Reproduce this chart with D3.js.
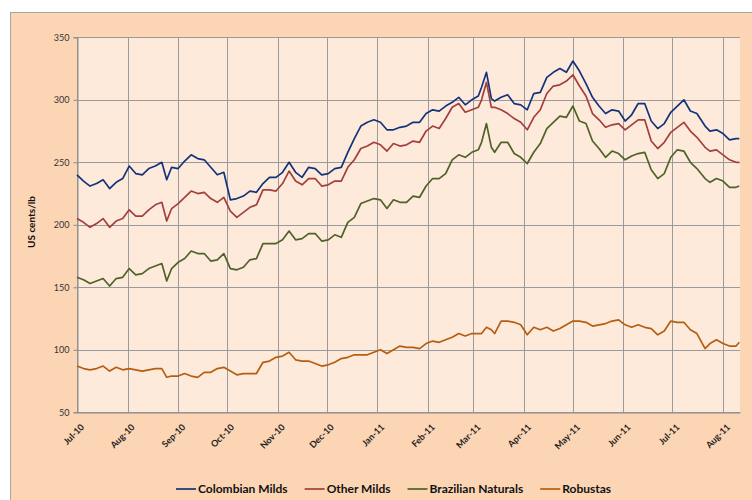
<!DOCTYPE html>
<html><head><meta charset="utf-8">
<script src="https://cdn.jsdelivr.net/npm/d3@7"></script>
<style>
body{margin:0;background:#fff;}
svg{display:block;font-family:Lato,"Open Sans",sans-serif;}
</style>
</head><body>
<svg id="chart" width="752" height="500"></svg>
<script>
const dates = [
"2010-07-01","2010-07-05","2010-07-09","2010-07-13","2010-07-17","2010-07-21","2010-07-25","2010-07-29",
"2010-08-02","2010-08-06","2010-08-10","2010-08-14","2010-08-18","2010-08-22","2010-08-25","2010-08-28",
"2010-09-01","2010-09-05","2010-09-09","2010-09-13","2010-09-17","2010-09-21","2010-09-25","2010-09-29",
"2010-10-03","2010-10-07","2010-10-11","2010-10-15","2010-10-19","2010-10-23","2010-10-27","2010-10-31",
"2010-11-04","2010-11-08","2010-11-12","2010-11-16","2010-11-20","2010-11-24","2010-11-28",
"2010-12-02","2010-12-06","2010-12-10","2010-12-14","2010-12-18","2010-12-22","2010-12-26","2010-12-30",
"2011-01-03","2011-01-07","2011-01-11","2011-01-15","2011-01-19","2011-01-23","2011-01-27","2011-01-31",
"2011-02-04","2011-02-08","2011-02-12","2011-02-16","2011-02-20","2011-02-24","2011-02-28",
"2011-03-04","2011-03-06","2011-03-09","2011-03-12","2011-03-14","2011-03-18","2011-03-22","2011-03-26","2011-03-30",
"2011-04-03","2011-04-07","2011-04-11","2011-04-15","2011-04-19","2011-04-23","2011-04-27",
"2011-05-01","2011-05-05","2011-05-09","2011-05-13","2011-05-17","2011-05-21","2011-05-25","2011-05-29",
"2011-06-02","2011-06-06","2011-06-10","2011-06-14","2011-06-18","2011-06-22","2011-06-26","2011-06-30",
"2011-07-04","2011-07-08","2011-07-12","2011-07-16","2011-07-21","2011-07-24","2011-07-28",
"2011-08-01","2011-08-05","2011-08-09","2011-08-11"
];
const colombianMilds = [
240,235,231,233,236,229,234,237,247,241,240,245,247,250,236,
246,245,251,256,253,252,246,240,242,220,221,223,227,226,233,238,238,242,250,242,
238,246,245,240,241,245,246,258,269,279,282,284,282,276,276,278,279,282,282,289,
292,291,295,298,302,296,300,303,
310,322,301,
299,302,304,297,296,292,305,306,318,322,325,322,331,323,313,302,295,289,292,291,
283,288,297,297,283,277,281,290,295,300,291,289,
279,275,276,273,268,269,269
];
const otherMilds = [
205,202,198,201,205,198,203,205,212,207,207,212,216,218,203,
213,217,222,227,225,226,221,218,222,211,206,210,214,216,228,228,227,233,243,235,
232,237,237,231,232,235,235,246,252,261,263,266,264,259,265,263,264,267,266,275,
279,277,285,294,297,290,292,294,
300,314,294,
294,292,289,285,282,276,286,292,305,311,312,315,320,311,303,289,284,278,280,281,
276,280,284,284,267,261,266,274,278,282,275,270,
262,259,260,256,252,250,250
];
const brazilianNaturals = [
158,156,153,155,157,151,157,158,165,160,161,165,167,169,155,
165,170,173,179,177,177,171,172,177,165,164,166,172,173,185,185,185,188,195,188,
189,193,193,187,188,192,190,202,206,217,219,221,220,213,220,218,218,223,222,231,
237,237,241,252,256,254,258,260,
266,281,262,
258,266,266,257,254,249,258,265,277,282,287,286,295,283,281,267,261,254,259,257,
252,255,257,258,244,237,241,254,260,259,250,245,
237,234,237,235,230,230,231
];
const robustas = [
87,85,84,85,87,83,86,84,85,84,83,84,85,85,78,
79,79,81,79,78,82,82,85,86,83,80,81,81,81,90,91,94,95,98,92,
91,91,89,87,88,90,93,94,96,96,96,98,100,97,100,103,102,102,101,105,
107,106,108,110,113,111,113,113,
113,118,116,
113,123,123,122,120,112,118,116,118,115,117,120,123,123,122,119,120,121,123,124,
120,118,120,118,117,112,115,123,122,122,116,113,
101,105,108,105,103,103,106
];
const seriesNames = ["Colombian Milds","Other Milds","Brazilian Naturals","Robustas"];
const seriesColors = ["#15337a","#a33f3c","#4f6228","#b55e12"];
const yTicks = [50,100,150,200,250,300,350];
const monthTicks = ["2010-07-01","2010-08-01","2010-09-01","2010-10-01","2010-11-01","2010-12-01",
"2011-01-01","2011-02-01","2011-03-01","2011-04-01","2011-05-01","2011-06-01","2011-07-01","2011-08-01"];
const yTitle = "US cents/lb";

const parse = d3.utcParse("%Y-%m-%d");
const dateObjs = dates.map(parse);
const seriesValues = [colombianMilds, otherMilds, brazilianNaturals, robustas];

const svg = d3.select("#chart");
const L = 77, R = 740, T = 37.3, B = 412.3;

svg.append("rect").attr("x",10.5).attr("y",12.5).attr("width",760).attr("height",500)
  .attr("fill","#fcd5b5").attr("stroke","#a6a6a6").attr("stroke-width",1);
svg.append("rect").attr("x",L).attr("y",T).attr("width",R-L).attr("height",B-T).attr("fill","#fdeadb");

const x = d3.scaleUtc().domain([parse("2010-07-01"), new Date(Date.UTC(2011,7,11,10))]).range([L,R]);
const y = d3.scaleLinear().domain([50,350]).range([B,T]);

const grid = svg.append("g");
grid.selectAll("line.h").data(yTicks).join("line").attr("class","h")
  .attr("x1",L).attr("x2",R).attr("y1",d=>Math.round(y(d))+0.5).attr("y2",d=>Math.round(y(d))+0.5)
  .attr("stroke","#9a9a9a").attr("stroke-width",1);
grid.selectAll("line.v").data(monthTicks.map(parse)).join("line").attr("class","v")
  .attr("x1",d=>Math.round(x(d))+0.5).attr("x2",d=>Math.round(x(d))+0.5).attr("y1",T).attr("y2",B)
  .attr("stroke","#9a9a9a").attr("stroke-width",1);

const yAxis = svg.append("g").attr("transform",`translate(${L+0.5},0)`)
  .call(d3.axisLeft(y).tickValues(yTicks).tickSize(4).tickPadding(4));
yAxis.select(".domain").attr("stroke","#8c8c8c");
yAxis.selectAll(".tick line").attr("stroke","#8c8c8c");
yAxis.selectAll(".tick text").attr("font-size","9px").attr("fill","#333").attr("font-family","Lato");

const xAxis = svg.append("g").attr("transform",`translate(0,${Math.round(B)+0.5})`)
  .call(d3.axisBottom(x).tickValues(monthTicks.map(parse)).tickFormat(d3.utcFormat("%b-%y")).tickSize(0));
xAxis.select(".domain").attr("stroke","#8c8c8c");
xAxis.selectAll(".tick text").attr("font-size","9px").attr("font-weight","bold").attr("fill","#222")
  .attr("font-family","Lato").attr("text-anchor","end")
  .attr("transform","translate(5,13) rotate(-45)").attr("dy","0.35em").attr("y",0).attr("x",0);

const line = d3.line().x((d,i)=>x(dateObjs[i])).y(d=>y(d));
seriesValues.forEach((vals,k)=>{
  svg.append("path").datum(vals).attr("d",line).attr("fill","none")
    .attr("stroke",seriesColors[k]).attr("stroke-width",1.7).attr("stroke-linejoin","round");
});

svg.append("text").attr("transform","translate(35,222) rotate(-90)").attr("text-anchor","middle")
  .attr("font-size","10px").attr("font-weight","bold").attr("fill","#111").text(yTitle);

let lx = 176;
const ly = 489;
seriesNames.forEach((name,k)=>{
  svg.append("line").attr("x1",lx).attr("x2",lx+20).attr("y1",ly).attr("y2",ly)
    .attr("stroke",seriesColors[k]).attr("stroke-width",1.7);
  const t = svg.append("text").attr("x",lx+22).attr("y",ly).attr("dy","0.35em")
    .attr("font-size","12px").attr("font-weight","bold").attr("fill","#111").text(name);
  lx += 22 + t.node().getComputedTextLength() + 17;
});
</script>
</body></html>
